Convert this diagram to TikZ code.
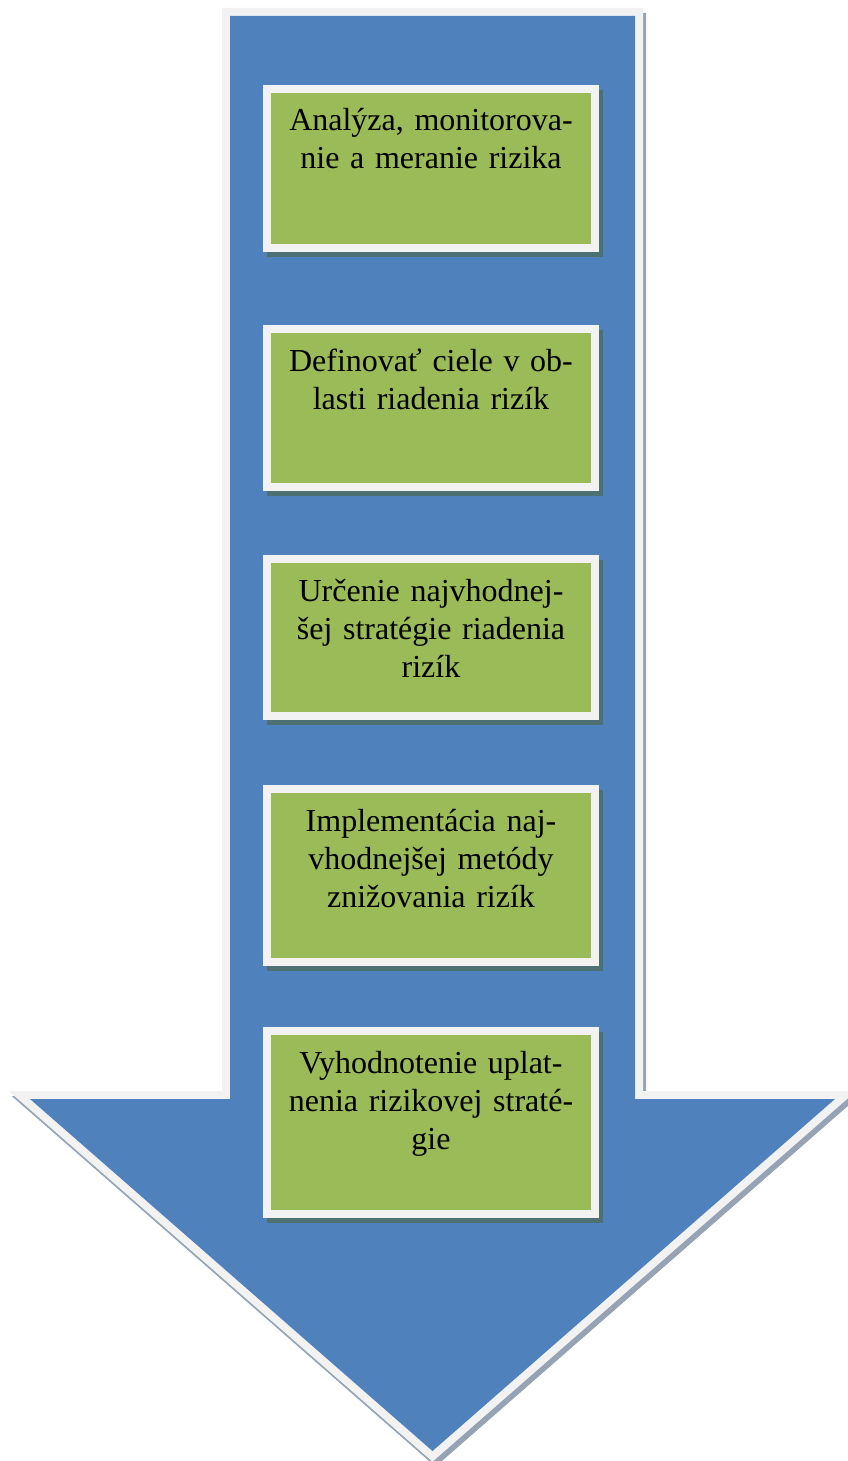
\documentclass[tikz,border=0pt]{standalone}
\usepackage{fontspec}
\setmainfont{Liberation Serif}
\usetikzlibrary{calc}
\definecolor{arrowblue}{HTML}{4F81BD}
\definecolor{rimgray}{HTML}{F2F2F2}
\definecolor{boxgreen}{HTML}{9BBB59}
\definecolor{arrowshadow}{HTML}{95A3B4}
\definecolor{boxshadow}{HTML}{4D7072}
\pgfdeclarelayer{arrowlayer}
\pgfdeclarelayer{shadelayer}
\pgfsetlayers{arrowlayer,shadelayer,main}
\def\arrowpath{(230,16) -- (635,16) -- (635,1099) -- (835,1099) -- (432.5,1451) -- (30,1099) -- (230,1099) -- cycle}
\begin{document}
\begin{tikzpicture}[x=1pt,y=-1pt,
  stepbox/.style={rectangle, fill=boxgreen, draw=rimgray, line width=8pt,
    minimum width=328.5pt, outer sep=0pt, inner sep=0pt},
  steptext/.style={anchor=base, text width=316pt, align=center, inner sep=0pt,
    font=\fontsize{32}{38}\selectfont},
  boxshade/.style={fill=boxshadow},
  rim/.style={draw=rimgray, line width=16pt, line join=miter},
  arrowshade/.style={fill=arrowshadow, draw=arrowshadow, line width=16pt, line join=miter}]
\useasboundingbox (0,0) rectangle (847,1461);
\begin{pgfonlayer}{arrowlayer}
  \path[arrowshade, shift={(3,5)}] \arrowpath;
  \path[rim] \arrowpath;
  \fill[arrowblue] \arrowpath;
\end{pgfonlayer}

\node[stepbox, minimum height=159pt] (b1) at (431,168.5) {};
\node[stepbox, minimum height=158pt] (b2) at (431,408) {};
\node[stepbox, minimum height=157pt] (b3) at (431,637.5) {};
\node[stepbox, minimum height=173pt] (b4) at (431,875.5) {};
\node[stepbox, minimum height=183pt] (b5) at (431,1122.5) {};

\begin{pgfonlayer}{shadelayer}
  \foreach \b in {b1,b2,b3,b4,b5}
    \fill[boxshade] ($(\b.north west)+(0,1)$) rectangle ($(\b.south east)+(8,9)$);
\end{pgfonlayer}

\node[steptext] (t1) at ($(b1.north)+(0,42)$) {Analýza, monitorova-\\nie a meranie rizika};
\node[steptext] (t2) at ($(b2.north)+(0,42)$) {Definovať ciele v ob-\\lasti riadenia rizík};
\node[steptext] (t3) at ($(b3.north)+(0,42)$) {Určenie najvhodnej-\\šej stratégie riadenia\\rizík};
\node[steptext] (t4) at ($(b4.north)+(0,42)$) {Implementácia naj-\\vhodnejšej metódy\\znižovania rizík};
\node[steptext] (t5) at ($(b5.north)+(0,42)$) {Vyhodnotenie uplat-\\nenia rizikovej straté-\\gie};
\end{tikzpicture}
\end{document}
